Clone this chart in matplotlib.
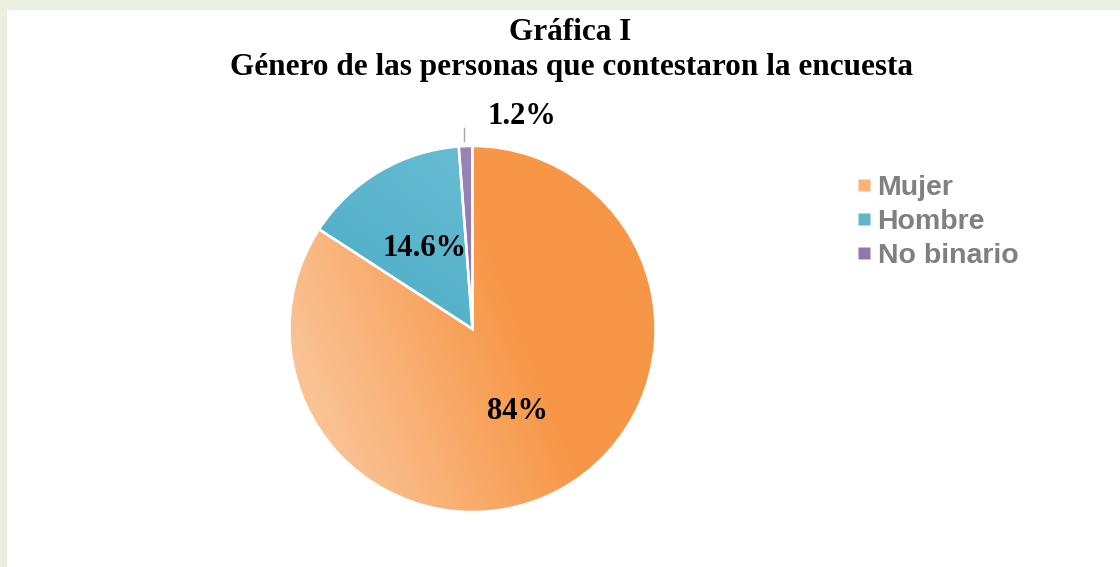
import numpy as np
import matplotlib
matplotlib.use("agg")
import matplotlib.pyplot as plt
from matplotlib.colors import to_rgb
from matplotlib.lines import Line2D

# data
categories = ["Mujer", "Hombre", "No binario"]
values = [84, 14.6, 1.2]
pct_labels = ["84%", "14.6%", "1.2%"]
colors = ["#f79646", "#4aacc6", "#8064a2"]
light_colors = ["#fac293", "#66bbd2", "#9a84b8"]
legend_colors = ["#f9b27a", "#5fb6cd", "#8f78b0"]

W, H = 1120, 567
fig = plt.figure(figsize=(W / 100, H / 100), dpi=100)
fig.patch.set_facecolor("#e9f0dd")
# white panel behind everything
fig.patches.append(plt.Rectangle((7 / W, 0), 1, 1 - 10 / H, transform=fig.transFigure,
                                 facecolor="white", edgecolor="none", zorder=-5))

# pie axes, center (472.5, 329) px from top, radius 183
cx, cy, r = 472.5, 329, 183
ax = fig.add_axes([(cx - r) / W, (H - cy - r) / H, 2 * r / W, 2 * r / H])

wedges, _ = ax.pie(values, colors=colors, startangle=90, counterclock=False, radius=1,
                   wedgeprops=dict(edgecolor="white", linewidth=1.8))
ax.set_xlim(-1, 1)
ax.set_ylim(-1, 1)
ax.axis("off")

# gradients per wedge
gx, gy = np.meshgrid(np.linspace(-1, 1, 300), np.linspace(1, -1, 300))
grad_dirs = [(0.9, 0.35, -0.9, 0.25), (-0.6, -0.8, -0.7, 0.5), (0, -1, -1, 1)]
for w, c, lc, (dx, dy, t0, t1) in zip(wedges, colors, light_colors, grad_dirs):
    t = gx * dx + gy * dy
    f = np.clip((t - t0) / (t1 - t0), 0, 1)[..., None]
    img = np.array(to_rgb(lc)) * (1 - f) + np.array(to_rgb(c)) * f
    im = ax.imshow(img, extent=[-1, 1, -1, 1], zorder=0.9, interpolation="bilinear")
    im.set_clip_path(w)
    # keep white edge on top of gradient
    w.set_zorder(1)
    w.set_facecolor("none")

# data labels
lab_font = dict(family="Liberation Serif", weight="bold", fontsize=22, color="black")
for i, w in enumerate(wedges):
    ang = np.deg2rad((w.theta1 + w.theta2) / 2)
    if i < 2:
        ax.text(0.51 * np.cos(ang), 0.51 * np.sin(ang), pct_labels[i],
                ha="center", va="center", zorder=3, **lab_font)
    else:
        x0 = np.cos(ang) - 0.01
        ax.plot([x0, x0], [1.03, 1.1], color="#a6a6a6", lw=1, clip_on=False)
        ax.text(x0 + 0.32, 1.16, pct_labels[i], ha="center", va="center", **lab_font)

# titles
fig.text(570 / W, 1 - 40 / H, "Gráfica I", ha="center", va="baseline",
         family="Liberation Serif", weight="bold", fontsize=22.5)
fig.text(571 / W, 1 - 75 / H, "Género de las personas que contestaron la encuesta",
         ha="center", va="baseline", family="Liberation Serif", weight="bold", fontsize=22.5)

# legend
handles = [Line2D([], [], marker="s", linestyle="none", markersize=9,
                  markerfacecolor=lc, markeredgecolor="none") for lc in legend_colors]
leg = fig.legend(handles, categories, loc="upper left", bbox_to_anchor=(842 / W, 1 - 161 / H),
                 frameon=False, handlelength=0.55, handletextpad=0.2, labelspacing=0.28,
                 borderpad=0, prop=dict(family="Liberation Sans", weight="bold", size=20.5))
for t in leg.get_texts():
    t.set_color("#808080")

fig.savefig("out.png", dpi=100, facecolor=fig.get_facecolor())
